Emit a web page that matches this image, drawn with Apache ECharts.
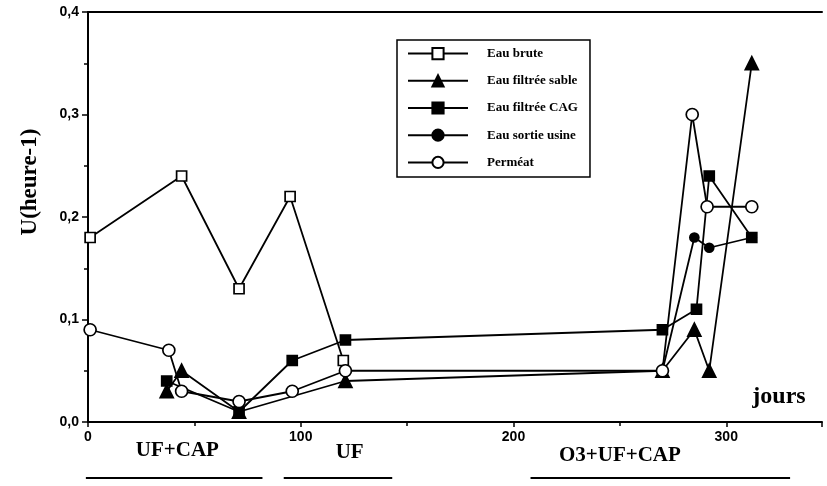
<!DOCTYPE html>
<html>
<head>
<meta charset="utf-8">
<script src="https://cdn.jsdelivr.net/npm/echarts@6/dist/echarts.min.js"></script>
<style>
  html, body { margin: 0; padding: 0; background: #fff; }
  #chart { width: 827px; height: 486px; }
</style>
</head>
<body>
<div id="chart"></div>
<script>
// ---- data (day, U in heure-1) ----
const seriesNames = ['Eau brute', 'Eau filtrée sable', 'Eau filtrée CAG', 'Eau sortie usine', 'Perméat'];
const eauBrute  = [[1, 0.18], [44, 0.24], [71, 0.13], [95, 0.22], [120, 0.06]];
const eauSable  = [[37, 0.03], [44, 0.05], [71, 0.01], [121, 0.04], [270, 0.05], [285, 0.09], [292, 0.05], [312, 0.35]];
const eauCAG    = [[37, 0.04], [71, 0.01], [96, 0.06], [121, 0.08], [270, 0.09], [286, 0.11], [292, 0.24], [312, 0.18]];
const eauSortie = [[270, 0.05], [285, 0.18], [292, 0.17], [312, 0.18]];
const permeat   = [[1, 0.09], [38, 0.07], [44, 0.03], [71, 0.02], [96, 0.03], [121, 0.05], [270, 0.05], [284, 0.30], [291, 0.21], [312, 0.21]];

const xTickLabels = [0, 100, 200, 300];
// treatment periods: label, label centre day, line start day, line end day
const periodNames  = ['UF+CAP', 'UF', 'O3+UF+CAP'];
const periodLabelDay = [42, 123, 250];
const periodStart  = [-1, 92, 208];
const periodEnd    = [82, 143, 330];

const serif = '"Liberation Serif", "DejaVu Serif", serif';
const sans = '"Liberation Sans", Arial, sans-serif';

const chart = echarts.init(document.getElementById('chart'), null, { renderer: 'canvas' });

function mk(name, data, symbol, size, filled) {
  return {
    name: name,
    type: 'line',
    data: data,
    symbol: symbol,
    symbolSize: size,
    showAllSymbol: true,
    lineStyle: { color: '#000', width: 1.8 },
    itemStyle: { color: filled ? '#000' : '#fff', borderColor: '#000', borderWidth: 1.7 },
    emphasis: { disabled: true },
    animation: false,
    z: filled ? 3 : 4
  };
}

const option = {
  animation: false,
  backgroundColor: '#fff',
  grid: { left: 88, right: 5, top: 12, bottom: 64, containLabel: false },
  legend: {
    orient: 'vertical',
    left: 397,
    top: 40,
    padding: [7, 12, 8, 10],
    itemGap: 14,
    itemWidth: 60,
    itemHeight: 14,
    borderColor: '#000',
    borderWidth: 1.5,
    backgroundColor: '#fff',
    data: seriesNames,
    textStyle: { fontFamily: serif, fontSize: 13, fontWeight: 'bold', color: '#000', padding: [0, 0, 0, 14] },
    selectedMode: false
  },
  xAxis: [{
    type: 'value',
    min: 0,
    max: 345,
    interval: 100,
    axisLine: { show: true, lineStyle: { color: '#000', width: 2 } },
    axisTick: { show: true, length: 5, lineStyle: { color: '#000', width: 1.5 } },
    minorTick: { show: true, splitNumber: 2, length: 4, lineStyle: { color: '#000', width: 1.5 } },
    splitLine: { show: false },
    axisLabel: {
      margin: 8,
      color: '#000',
      fontFamily: sans,
      fontWeight: 'bold',
      fontSize: 14,
      formatter: function (v) { return xTickLabels.indexOf(v) >= 0 ? String(v) : ''; }
    }
  }, {
    type: 'value',
    position: 'top',
    min: 0,
    max: 345,
    axisLine: { show: true, onZero: false, lineStyle: { color: '#000', width: 2 } },
    axisTick: { show: false },
    axisLabel: { show: false },
    splitLine: { show: false }
  }],
  yAxis: {
    type: 'value',
    min: 0,
    max: 0.4,
    interval: 0.1,
    axisLine: { show: true, lineStyle: { color: '#000', width: 2 } },
    axisTick: { show: true, length: 6, lineStyle: { color: '#000', width: 1.5 } },
    minorTick: { show: true, splitNumber: 2, length: 4, lineStyle: { color: '#000', width: 1.5 } },
    splitLine: { show: false },
    axisLabel: {
      margin: 9,
      color: '#000',
      fontFamily: sans,
      fontWeight: 'bold',
      fontSize: 14,
      formatter: function (v) { return v.toFixed(1).replace('.', ','); }
    }
  },
  series: [
    mk(seriesNames[0], eauBrute, 'rect', 10, false),
    mk(seriesNames[1], eauSable, 'triangle', 13, true),
    mk(seriesNames[2], eauCAG, 'rect', 10, true),
    mk(seriesNames[3], eauSortie, 'circle', 9, true),
    mk(seriesNames[4], permeat, 'circle', 12, false)
  ]
};

chart.setOption(option);

const graphics = [];
// y axis title
graphics.push({
  type: 'text',
  x: 30, y: 182,
  rotation: Math.PI / 2,
  style: { text: 'U(heure-1)', fontFamily: serif, fontWeight: 'bold', fontSize: 23, fill: '#000', align: 'center', verticalAlign: 'middle' }
});
// x axis unit
graphics.push({
  type: 'text',
  x: 779, y: 397,
  style: { text: 'jours', fontFamily: serif, fontWeight: 'bold', fontSize: 24, fill: '#000', align: 'center', verticalAlign: 'middle' }
});
const labelY = [451, 453, 456];
for (let i = 0; i < periodNames.length; i++) {
  const cx = chart.convertToPixel({ xAxisIndex: 0 }, periodLabelDay[i]);
  const x1 = chart.convertToPixel({ xAxisIndex: 0 }, periodStart[i]);
  const x2 = chart.convertToPixel({ xAxisIndex: 0 }, periodEnd[i]);
  graphics.push({
    type: 'text', x: cx, y: labelY[i],
    style: { text: periodNames[i], fontFamily: serif, fontWeight: 'bold', fontSize: 21, fill: '#000', align: 'center', verticalAlign: 'middle' }
  });
  graphics.push({
    type: 'line',
    shape: { x1: x1, y1: 478, x2: x2, y2: 478 },
    style: { stroke: '#000', lineWidth: 2 }
  });
}
chart.setOption({ graphic: graphics });
</script>
</body>
</html>
